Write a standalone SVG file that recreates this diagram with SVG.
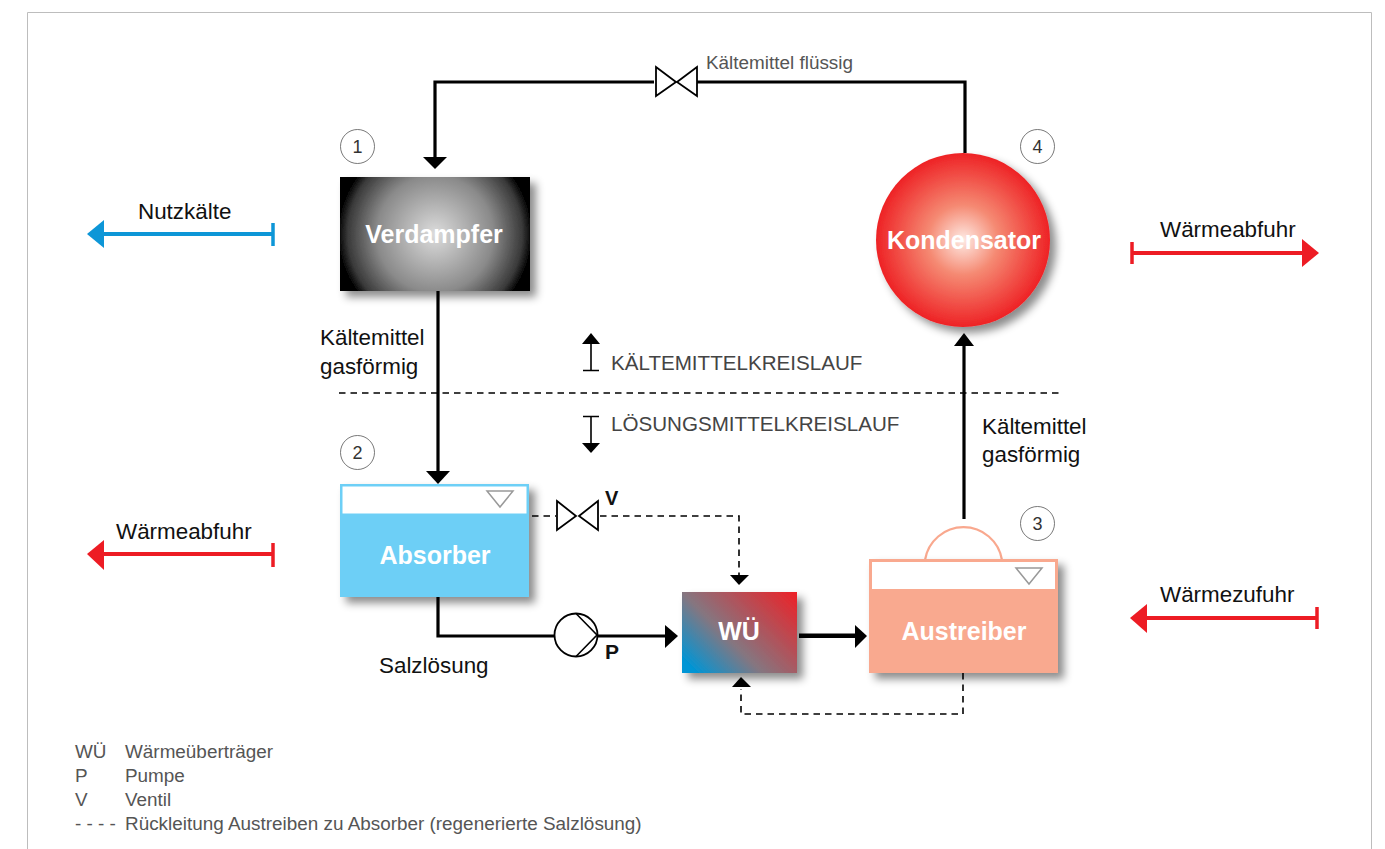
<svg xmlns="http://www.w3.org/2000/svg" width="1385" height="849" viewBox="0 0 1385 849">
<style>
text{font-family:"Liberation Sans",Arial,sans-serif;fill:#1a1a1a}
.lbl{font-size:22.4px;fill:#111}
.cap{font-size:20.600px;fill:#444}
.leg{font-size:18.900px;fill:#555}
.nm{font-size:25px;font-weight:bold;fill:#fff;text-anchor:middle}
.no{font-size:18px;text-anchor:middle;fill:#333}
.ring{fill:#fff;stroke:#555;stroke-width:.8}
.line{fill:none;stroke:#000;stroke-width:3.2}
.dash{fill:none;stroke:#000;stroke-width:1.6;stroke-dasharray:6.5 5}
.sym{fill:#fff;stroke:#000;stroke-width:1.8}
.thin{fill:none;stroke:#000;stroke-width:1.6}
.tri{fill:#fff;stroke:#999;stroke-width:1.5}
</style>
<defs>
<filter id="sh" x="-20%" y="-20%" width="150%" height="150%"><feDropShadow dx="6" dy="6" stdDeviation="4" flood-color="#000" flood-opacity=".45"/></filter>
<radialGradient id="gV" gradientUnits="userSpaceOnUse" cx="435" cy="234" r="97"><stop offset="0" stop-color="#dcdcdc"/><stop offset=".6" stop-color="#8a8a8a"/><stop offset=".9" stop-color="#3a3a3a"/><stop offset="1" stop-color="#000"/></radialGradient>
<radialGradient id="gK" gradientUnits="userSpaceOnUse" cx="963" cy="240" r="87"><stop offset="0" stop-color="#feeae4"/><stop offset=".4" stop-color="#f58a73"/><stop offset="1" stop-color="#ee2225"/></radialGradient>
<linearGradient id="gW" gradientUnits="userSpaceOnUse" x1="682" y1="673" x2="780" y2="575"><stop offset="0" stop-color="#0095d5"/><stop offset=".07" stop-color="#0095d5"/><stop offset=".41" stop-color="#857680"/><stop offset="1" stop-color="#ee2026"/></linearGradient>
</defs>
<rect width="1385" height="849" fill="#fff"/>
<path d="M27.5 849V12.500H1371.500V849" fill="none" stroke="#bdbdbd" stroke-width="1"/>

<g id="connectors">
<path class="line" d="M965 153V82H682M654 82H435V158"/>
<path d="M423 157H447L435 169Z"/>
<path class="line" d="M438 291V472"/>
<path d="M426 471H450L438 484Z"/>
<path class="line" d="M964 519V346"/>
<path d="M954 346L964 333L974 346Z"/>
<path class="line" d="M438 597V636H556M598 636H666"/>
<path d="M665 625L678 636L665 648Z"/>
<path d="M799 633.500H856V638H799Z"/>
<path d="M855 625L867 636L855 648Z"/>
<path class="dash" d="M532 516H556M600 516H739V575"/>
<path d="M730 575H749L739 585Z"/>
<path class="dash" d="M963 673V714H741V689"/>
<path d="M732 687H751L741 677Z"/>
<path d="M339 393H1060" fill="none" stroke="#000" stroke-width="1.500" stroke-dasharray="6.500 5"/>
<path class="thin" d="M591 336V371M583 370.500H599"/>
<path d="M582 344L591 333L600 344Z"/>
<path class="thin" d="M591 416V445M583 416.500H599"/>
<path d="M582 443L591 453L600 443Z"/>
<path stroke="#0d96d7" stroke-width="4" d="M100 234H273"/><path d="M273 223V246" stroke="#0d96d7" stroke-width="3.500"/>
<path d="M104 220L87 234L104 248Z" fill="#0d96d7"/>
<path stroke="#ed1c24" stroke-width="4" d="M100 554H273"/><path d="M273 543V567" stroke="#ed1c24" stroke-width="3.500"/>
<path d="M104 540L87 554L104 570Z" fill="#ed1c24"/>
<path stroke="#ed1c24" stroke-width="4" d="M1132 253H1305"/><path d="M1132 242V264" stroke="#ed1c24" stroke-width="3.500"/>
<path d="M1302 239L1319 253L1302 267Z" fill="#ed1c24"/>
<path stroke="#ed1c24" stroke-width="4" d="M1145 618H1317"/><path d="M1317 607V629" stroke="#ed1c24" stroke-width="3.500"/>
<path d="M1147 604L1130 618L1147 633Z" fill="#ed1c24"/>
</g>

<g id="ventil-top"><path class="sym" d="M656 67L676 82L656 96Z"/><path class="sym" d="M697 67L677 82L697 96Z"/></g>
<g id="ventil-v"><path class="sym" d="M557 501L576 516L557 530Z"/><path class="sym" d="M598 501L579 516L598 530Z"/><text x="605" y="505" font-size="20" font-weight="bold" style="fill:#111">V</text></g>
<g id="pumpe"><circle class="sym" cx="576" cy="635" r="21.500"/><path class="thin" d="M576 613.500L597 635L576 656.500"/><text x="605" y="659" font-size="21" font-weight="bold" style="fill:#111">P</text></g>

<g id="verdampfer"><rect x="340" y="177" width="190" height="114" fill="url(#gV)" filter="url(#sh)"/><text class="nm" x="434" y="243">Verdampfer</text></g>
<g id="kondensator"><circle cx="963" cy="240" r="87" fill="url(#gK)" filter="url(#sh)"/><text class="nm" x="964" y="249">Kondensator</text></g>
<g id="absorber"><rect x="340" y="484" width="189" height="113" fill="#6dcff6" filter="url(#sh)"/><rect x="342.500" y="486.500" width="184" height="27" fill="#fff"/><path class="tri" d="M487 491H513L500 507Z"/><text class="nm" x="435" y="564">Absorber</text></g>
<g id="wue"><rect x="682" y="592" width="115" height="81" fill="url(#gW)" filter="url(#sh)"/><text class="nm" x="739" y="640">WÜ</text></g>
<g id="austreiber"><path d="M925 560A39 39 0 0 1 1002 560" fill="#fff" stroke="#f9a88e" stroke-width="2.200"/><rect x="869" y="559" width="189" height="114" fill="#f9a98f" filter="url(#sh)"/><rect x="872" y="562" width="183" height="27" fill="#fff"/><path class="tri" d="M1016 568H1042L1029 584Z"/><text class="nm" x="964" y="640">Austreiber</text></g>

<g id="n1"><circle class="ring" cx="357.500" cy="146.500" r="17"/><text class="no" x="357.500" y="153">1</text></g>
<g id="n2"><circle class="ring" cx="357.500" cy="452.500" r="17"/><text class="no" x="357.500" y="459">2</text></g>
<g id="n3"><circle class="ring" cx="1037.500" cy="523.500" r="17"/><text class="no" x="1037.500" y="530">3</text></g>
<g id="n4"><circle class="ring" cx="1037.500" cy="146.500" r="17"/><text class="no" x="1037.500" y="153">4</text></g>

<g id="labels">
<text x="706" y="69" font-size="18.900" style="fill:#555">Kältemittel flüssig</text>
<text class="lbl" x="138" y="219">Nutzkälte</text>
<text class="lbl" x="116" y="539">Wärmeabfuhr</text>
<text class="lbl" x="1160" y="237">Wärmeabfuhr</text>
<text class="lbl" x="1160" y="602">Wärmezufuhr</text>
<text class="lbl" x="320" y="345">Kältemittel</text>
<text class="lbl" x="320" y="374">gasförmig</text>
<text class="lbl" x="982" y="434">Kältemittel</text>
<text class="lbl" x="982" y="462">gasförmig</text>
<text class="lbl" x="379" y="673">Salzlösung</text>
<text class="cap" x="611" y="370">KÄLTEMITTELKREISLAUF</text>
<text class="cap" x="611" y="431">LÖSUNGSMITTELKREISLAUF</text>
<text class="leg" x="75" y="758">WÜ</text><text class="leg" x="125" y="758">Wärmeüberträger</text>
<text class="leg" x="75" y="782">P</text><text class="leg" x="125" y="782">Pumpe</text>
<text class="leg" x="75" y="806">V</text><text class="leg" x="125" y="806">Ventil</text>
<text class="leg" x="75" y="830">- - - -</text><text class="leg" x="125" y="830">Rückleitung Austreiben zu Absorber (regenerierte Salzlösung)</text>
</g>
</svg>
